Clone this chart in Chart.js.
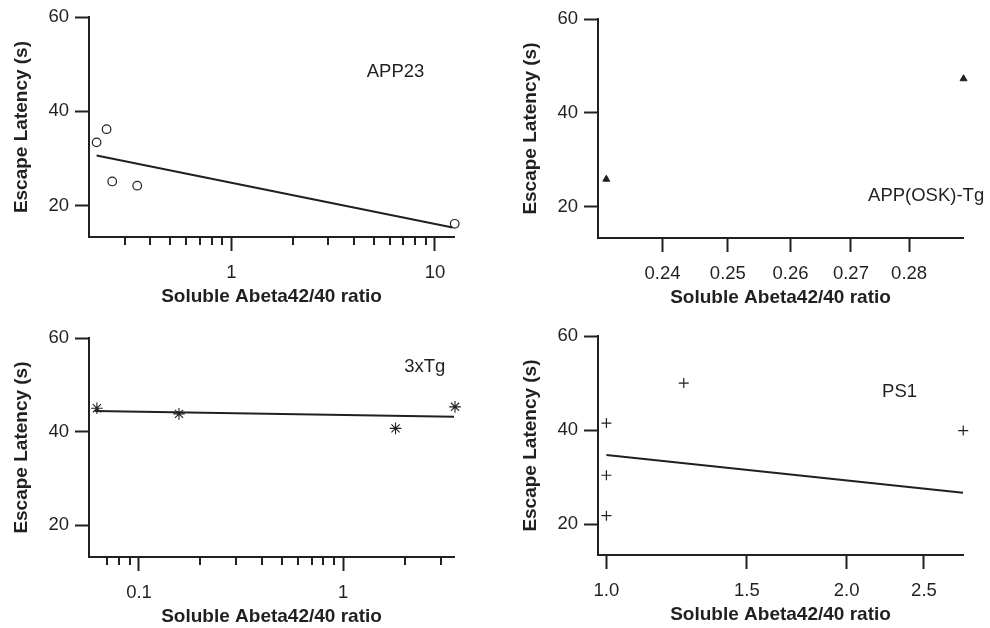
<!DOCTYPE html>
<html>
<head>
<meta charset="utf-8">
<script src="https://cdn.jsdelivr.net/npm/chart.js@4.4.1/dist/chart.umd.min.js"></script>
<style>
  body { margin: 0; background: #fff; width: 990px; height: 628px; overflow: hidden; position: relative; }
  canvas { position: absolute; }
</style>
</head>
<body>
<canvas id="app23"></canvas>
<canvas id="osk"></canvas>
<canvas id="tg3"></canvas>
<canvas id="ps1"></canvas>
<script>
// ---- data ----
const latencyTicks = [20, 40, 60];

// APP23 (log x)
const app23Ratio = [0.218, 0.244, 0.26, 0.345, 12.5];
const app23Latency = [33.4, 36.2, 25.1, 24.2, 16.1];
const app23FitRatio = [0.218, 12.2];
const app23FitLatency = [30.6, 15.3];
const app23Range = [0.2, 12.4];
const app23Ticks = [1, 10];
const app23TickLabels = ['1', '10'];
const app23Minor = [0.3, 0.4, 0.5, 0.6, 0.7, 0.8, 0.9, 2, 3, 4, 5, 6, 7, 8, 9];

// APP(OSK)-Tg (log x)
const oskRatio = [0.2317, 0.2897];
const oskLatency = [25.9, 47.3];
const oskRange = [0.2305, 0.2896];
const oskTicks = [0.24, 0.25, 0.26, 0.27, 0.28];
const oskTickLabels = ['0.24', '0.25', '0.26', '0.27', '0.28'];

// 3xTg (log x)
const tg3Ratio = [0.0622, 0.157, 1.805, 3.53];
const tg3Latency = [45.0, 43.8, 40.7, 45.3];
const tg3FitRatio = [0.0607, 3.49];
const tg3FitLatency = [44.4, 43.2];
const tg3Range = [0.0569, 3.49];
const tg3Ticks = [0.1, 1];
const tg3TickLabels = ['0.1', '1'];
const tg3Minor = [0.07, 0.08, 0.09, 0.2, 0.3, 0.4, 0.5, 0.6, 0.7, 0.8, 0.9, 2, 3];

// PS1 (log x)
const ps1Ratio = [1.0, 1.0, 1.0, 1.25, 2.8];
const ps1Latency = [41.5, 30.4, 21.8, 50.0, 39.9];
const ps1FitRatio = [1.0, 2.798];
const ps1FitLatency = [34.7, 26.7];
const ps1Range = [0.976, 2.798];
const ps1Ticks = [1.0, 1.5, 2.0, 2.5];
const ps1TickLabels = ['1.0', '1.5', '2.0', '2.5'];

// ---- styling ----
const ink = '#231f20';
const family = '"Liberation Sans", Arial, Helvetica, sans-serif';

const zip = (xs, ys) => xs.map((x, i) => ({ x: x, y: ys[i] }));

// short minor ticks + the strain label, placed through the scales
const panelDecor = {
  id: 'panelDecor',
  afterDraw(chart, args, opts) {
    const { ctx } = chart;
    const x = chart.scales.x, y = chart.scales.y;
    ctx.save();
    ctx.strokeStyle = ink;
    ctx.lineWidth = 2;
    (opts.minor || []).forEach(v => {
      const px = Math.round(x.getPixelForValue(v));
      ctx.beginPath();
      ctx.moveTo(px, x.top);
      ctx.lineTo(px, x.top + 8);
      ctx.stroke();
    });
    if (opts.label) {
      ctx.fillStyle = ink;
      ctx.font = '18.5px ' + family;
      ctx.textAlign = 'center';
      ctx.textBaseline = 'middle';
      ctx.fillText(opts.label, x.getPixelForValue(opts.at[0]), y.getPixelForValue(opts.at[1]));
    }
    ctx.restore();
  }
};

function makePanel(id, box, p) {
  const canvas = document.getElementById(id);
  canvas.width = box.w;
  canvas.height = box.h;
  canvas.style.left = box.x + 'px';
  canvas.style.top = box.y + 'px';

  const datasets = [{
    type: 'scatter',
    data: zip(p.ratio, p.latency),
    pointStyle: p.marker.style,
    pointRadius: p.marker.r,
    pointBorderWidth: p.marker.bw,
    pointBorderColor: ink,
    pointBackgroundColor: p.marker.fill,
    clip: false
  }];
  if (p.fitRatio) {
    datasets.push({
      type: 'line',
      data: zip(p.fitRatio, p.fitLatency),
      borderColor: ink,
      borderWidth: 2,
      pointRadius: 0,
      tension: 0,
      clip: false
    });
  }

  new Chart(canvas, {
    type: 'scatter',
    data: { datasets: datasets },
    options: {
      responsive: false,
      animation: false,
      devicePixelRatio: 1,
      layout: { padding: { top: 16, right: box.padRight, left: 0, bottom: 0 } },
      plugins: {
        legend: { display: false },
        tooltip: { enabled: false },
        panelDecor: { minor: p.minor, label: p.label, at: p.labelAt }
      },
      scales: {
        x: {
          type: 'logarithmic',
          min: p.range[0],
          max: p.range[1],
          bounds: 'data',
          afterBuildTicks: axis => { axis.ticks = p.ticks.map(v => ({ value: v })); },
          afterFit: axis => { axis.height = 77; },
          ticks: {
            autoSkip: false,
            maxRotation: 0,
            padding: 11,
            color: ink,
            font: { family: family, size: 18.5 },
            callback: (value, index) => p.tickLabels[index]
          },
          grid: { drawOnChartArea: false, drawTicks: true, tickLength: 14, tickWidth: 2, tickColor: ink },
          border: { display: true, width: 2, color: ink },
          title: {
            display: true,
            text: 'Soluble Abeta42/40 ratio',
            color: ink,
            font: { family: family, size: 19, weight: 'bold' },
            padding: { top: 0, bottom: 6 }
          }
        },
        y: {
          type: 'linear',
          min: p.yMin,
          max: 60,
          bounds: 'data',
          afterBuildTicks: axis => { axis.ticks = latencyTicks.map(v => ({ value: v })); },
          afterFit: axis => { axis.width = 89; },
          ticks: {
            padding: 6,
            color: ink,
            font: { family: family, size: 18.5 },
            callback: v => String(v)
          },
          grid: { drawOnChartArea: false, drawTicks: true, tickLength: 14, tickWidth: 2, tickColor: ink },
          border: { display: true, width: 2, color: ink },
          title: {
            display: true,
            text: 'Escape Latency (s)',
            color: ink,
            font: { family: family, size: 19, weight: 'bold' },
            padding: { top: 10, bottom: 0 }
          }
        }
      }
    },
    plugins: [panelDecor]
  });
}

makePanel('app23', { x: 0, y: 0, w: 495, h: 314, padRight: 41 }, {
  ratio: app23Ratio, latency: app23Latency,
  fitRatio: app23FitRatio, fitLatency: app23FitLatency,
  range: app23Range, ticks: app23Ticks, tickLabels: app23TickLabels, minor: app23Minor,
  yMin: 13.3,
  marker: { style: 'circle', r: 4.3, bw: 1.2, fill: 'rgba(255,255,255,0)' },
  label: 'APP23', labelAt: [6.4, 48.3]
});

makePanel('osk', { x: 509, y: 2, w: 481, h: 313, padRight: 27 }, {
  ratio: oskRatio, latency: oskLatency,
  range: oskRange, ticks: oskTicks, tickLabels: oskTickLabels, minor: [],
  yMin: 13.37,
  marker: { style: 'triangle', r: 4, bw: 1, fill: ink },
  label: 'APP(OSK)-Tg', labelAt: [0.283, 22.3]
});

makePanel('tg3', { x: 0, y: 321, w: 495, h: 313, padRight: 41 }, {
  ratio: tg3Ratio, latency: tg3Latency,
  fitRatio: tg3FitRatio, fitLatency: tg3FitLatency,
  range: tg3Range, ticks: tg3Ticks, tickLabels: tg3TickLabels, minor: tg3Minor,
  yMin: 13.2,
  marker: { style: 'star', r: 5.8, bw: 1.1, fill: ink },
  label: '3xTg', labelAt: [2.51, 53.8]
});

makePanel('ps1', { x: 509, y: 319, w: 481, h: 313, padRight: 27 }, {
  ratio: ps1Ratio, latency: ps1Latency,
  fitRatio: ps1FitRatio, fitLatency: ps1FitLatency,
  range: ps1Range, ticks: ps1Ticks, tickLabels: ps1TickLabels, minor: [],
  yMin: 13.44,
  marker: { style: 'cross', r: 5, bw: 1.2, fill: ink },
  label: 'PS1', labelAt: [2.33, 48.1]
});
</script>
</body>
</html>
